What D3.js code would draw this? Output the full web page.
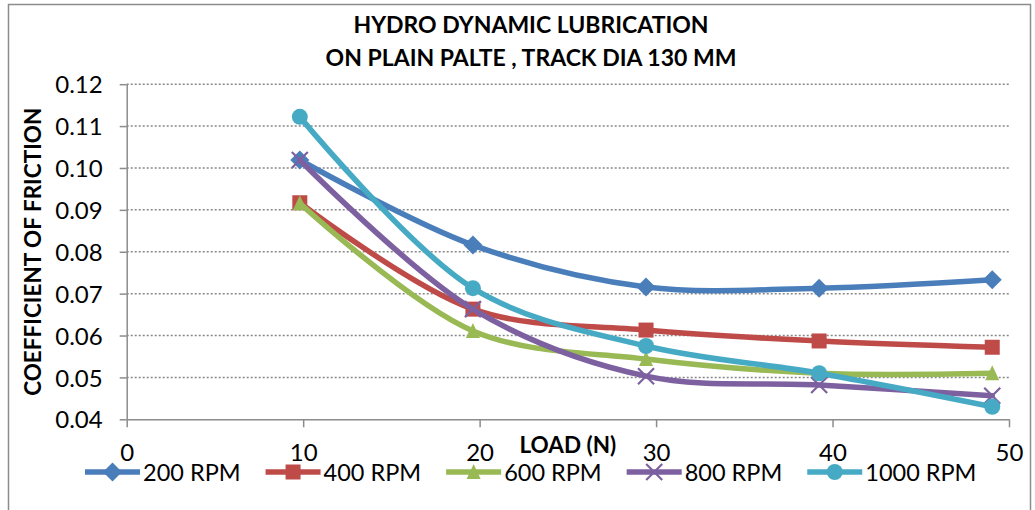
<!DOCTYPE html>
<html>
<head>
<meta charset="utf-8">
<script src="https://cdn.jsdelivr.net/npm/d3@7"></script>
<style>
  body { margin: 0; background: #fff; }
  svg { display: block; }
  text { font-family: Lato, "Open Sans", sans-serif; fill: #000; }
</style>
</head>
<body>
<svg id="chart" width="1035" height="510"></svg>
<script>
// Load in newtons (1..5 kg dead weights)
const loads = [9.81, 19.62, 29.43, 39.24, 49.05];

// Coefficient of friction per spindle speed
const rpm200  = [0.1019, 0.0816, 0.0716, 0.0713, 0.0733];
const rpm400  = [0.0917, 0.0663, 0.0613, 0.0587, 0.0572];
const rpm600  = [0.0916, 0.0611, 0.0544, 0.0510, 0.0510];
const rpm800  = [0.1019, 0.0663, 0.0503, 0.0482, 0.0456];
const rpm1000 = [0.1122, 0.0713, 0.0575, 0.0510, 0.0430];

const seriesNames = ["200 RPM", "400 RPM", "600 RPM", "800 RPM", "1000 RPM"];
const xTicks = [0, 10, 20, 30, 40, 50];
const yTicks = [0.04, 0.05, 0.06, 0.07, 0.08, 0.09, 0.10, 0.11, 0.12];
const titleLines = ["HYDRO DYNAMIC LUBRICATION", "ON PLAIN PALTE , TRACK DIA 130 MM"];
const xTitle = "LOAD (N)";
const yTitle = "COEFFICIENT OF FRICTION";

const seriesValues = [rpm200, rpm400, rpm600, rpm800, rpm1000];
const colors = ["#4A7EBB", "#BE4B48", "#98B954", "#7D60A0", "#46AAC5"];
const shapes = ["diamond", "square", "triangle", "cross", "circle"];

const svg = d3.select("#chart");
const plot = { left: 126.7, right: 1009, top: 84.2, bottom: 419.3 };

const x = d3.scaleLinear().domain([0, 50]).range([plot.left, plot.right]);
const y = d3.scaleLinear().domain([0.04, 0.12]).range([plot.bottom, plot.top]);

// Outer chart frame
svg.append("rect")
  .attr("x", 8.5).attr("y", 4.5).attr("width", 1022).attr("height", 540)
  .attr("fill", "#fff").attr("stroke", "#8c8c8c").attr("stroke-width", 1.5);

// Dotted horizontal gridlines
svg.append("g").selectAll("line")
  .data(yTicks.filter(d => d > 0.04))
  .join("line")
  .attr("x1", plot.left).attr("x2", plot.right)
  .attr("y1", d => y(d)).attr("y2", d => y(d))
  .attr("stroke", "#878787").attr("stroke-width", 1.5)
  .attr("stroke-dasharray", "2 2");

// Y axis
const yAxis = svg.append("g")
  .attr("transform", `translate(${plot.left},0)`)
  .call(d3.axisLeft(y).tickValues(yTicks).tickFormat(d3.format(".2f")).tickSize(7).tickSizeOuter(0));
yAxis.select(".domain").attr("stroke", "#8c8c8c").attr("stroke-width", 1.5);
yAxis.selectAll(".tick line").attr("stroke", "#8c8c8c").attr("stroke-width", 1.5);
yAxis.selectAll(".tick text")
  .attr("x", -24).attr("dy", "0.36em")
  .style("font-size", "24px").attr("fill", "#000");

// X axis
const xAxis = svg.append("g")
  .attr("transform", `translate(0,${plot.bottom})`)
  .call(d3.axisBottom(x).tickValues(xTicks).tickFormat(d3.format("d")).tickSize(8).tickSizeOuter(0));
xAxis.select(".domain").attr("stroke", "#8c8c8c").attr("stroke-width", 1.5);
xAxis.selectAll(".tick line").attr("stroke", "#8c8c8c").attr("stroke-width", 1.5);
xAxis.selectAll(".tick text")
  .attr("y", 42).attr("dy", 0)
  .style("font-size", "24px").attr("fill", "#000");

// Titles
svg.append("g").selectAll("text")
  .data(titleLines)
  .join("text")
  .attr("x", 531).attr("y", (d, i) => 33 + i * 33)
  .attr("text-anchor", "middle")
  .style("font-size", "23px").style("font-weight", "bold")
  .text(d => d);

svg.append("text")
  .attr("x", (plot.left + plot.right) / 2).attr("y", 453)
  .attr("text-anchor", "middle")
  .style("font-size", "22.5px").style("font-weight", "bold")
  .text(xTitle);

svg.append("text")
  .attr("transform", `translate(41,${(plot.top + plot.bottom) / 2}) rotate(-90)`)
  .attr("text-anchor", "middle")
  .style("font-size", "22.5px").style("font-weight", "bold")
  .text(yTitle);

// Marker drawing helper
function drawMarker(g, shape, color) {
  if (shape === "diamond") {
    g.append("path").attr("d", "M0,-9.5L9.5,0L0,9.5L-9.5,0Z").attr("fill", color);
  } else if (shape === "square") {
    g.append("rect").attr("x", -7.5).attr("y", -7.5).attr("width", 15).attr("height", 15).attr("fill", color);
  } else if (shape === "triangle") {
    g.append("path").attr("d", "M0,-8L7,7L-7,7Z").attr("fill", color);
  } else if (shape === "cross") {
    g.append("path").attr("d", "M-8,-8L8,8M-8,8L8,-8")
      .attr("stroke", color).attr("stroke-width", 2.2).attr("fill", "none");
  } else {
    g.append("circle").attr("r", 8).attr("fill", color);
  }
}

// Smoothed series lines with markers
const line = d3.line()
  .x((d, i) => x(loads[i]))
  .y(d => y(d))
  .curve(d3.curveCatmullRom.alpha(0.5));

seriesValues.forEach((vals, s) => {
  const g = svg.append("g");
  g.append("path")
    .attr("d", line(vals))
    .attr("fill", "none")
    .attr("stroke", colors[s])
    .attr("stroke-width", 5.5)
    .attr("stroke-linejoin", "round")
    .attr("stroke-linecap", "round");
  vals.forEach((v, i) => {
    const m = g.append("g").attr("transform", `translate(${x(loads[i])},${y(v)})`);
    drawMarker(m, shapes[s], colors[s]);
  });
});

// Legend along the bottom
const legend = svg.append("g");
let lx = 85;
const ly = 472;
seriesNames.forEach((name, s) => {
  const item = legend.append("g");
  item.append("line")
    .attr("x1", lx).attr("x2", lx + 55).attr("y1", ly).attr("y2", ly)
    .attr("stroke", colors[s]).attr("stroke-width", 5.5);
  const m = item.append("g").attr("transform", `translate(${lx + 27.5},${ly})`);
  drawMarker(m, shapes[s], colors[s]);
  const t = item.append("text")
    .attr("x", lx + 58).attr("y", ly + 8.5)
    .style("font-size", "23.5px")
    .text(name);
  lx = lx + 58 + t.node().getComputedTextLength() + 25;
});
</script>
</body>
</html>
